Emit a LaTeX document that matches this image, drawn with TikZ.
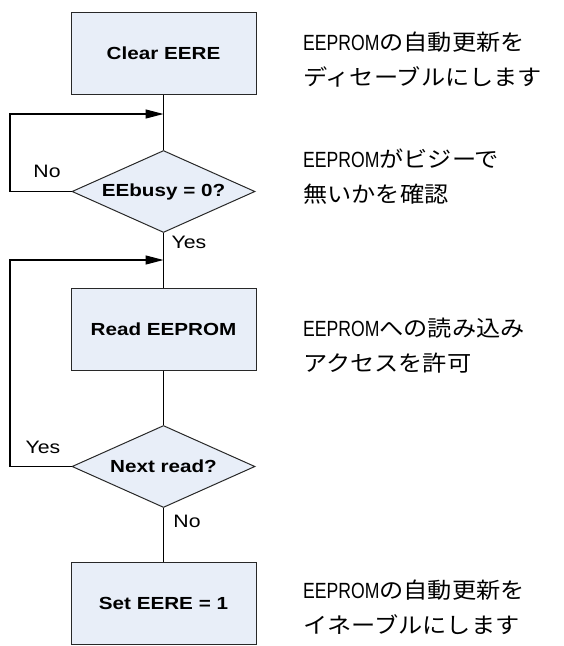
\documentclass[tikz,border=0pt]{standalone}
\usepackage{fontspec}
\setmainfont{Liberation Sans}
\newfontfamily\boxfont[FakeStretch=1.18]{Liberation Sans}
\newfontfamily\jpfont[FakeStretch=1.1]{Noto Sans CJK JP}
\newfontfamily\latfont[FakeStretch=0.8]{Liberation Sans}
\usetikzlibrary{shapes.geometric,arrows.meta}
\definecolor{boxblue}{RGB}{232,238,248}
\definecolor{edge}{RGB}{40,40,40}
\tikzset{
  procbox/.style={draw=edge, fill=boxblue, line width=1pt, minimum width=185pt,
    minimum height=82pt, inner sep=0pt, font=\boxfont\bfseries\fontsize{17.5}{20}\selectfont},
  decision/.style={diamond, draw=edge, fill=boxblue, line width=1pt, aspect=2.26,
    minimum width=183pt, minimum height=82pt, inner sep=0pt,
    font=\boxfont\bfseries\fontsize{17.5}{20}\selectfont},
  conn/.style={line width=1.2pt, draw=black},
  arr/.style={conn, -{Triangle[length=18pt,width=9pt]}},
  lbl/.style={inner sep=0pt, font=\boxfont\fontsize{18}{20}\selectfont},
  note/.style={anchor=west, align=left, inner sep=0pt, font=\fontsize{22}{35}\selectfont}
}
\begin{document}
\begin{tikzpicture}[x=1pt,y=-1pt]
\useasboundingbox (0,0) rectangle (564,646);
\node[procbox] (box1) at (163.5,53.5) {Clear EERE};
\node[decision] (dia1) at (163.5,191.5) {EEbusy = 0?};
\node[procbox] (box2) at (163.5,329) {Read EEPROM};
\node[decision] (dia2) at (163.5,466.5) {Next read?};
\node[procbox] (box3) at (163.5,603) {Set EERE = 1};
\coordinate (j1) at (163.5,114);
\coordinate (j2) at (163.5,260);
\coordinate (l1) at (10,191.5);
\coordinate (l2) at (10,466.5);
\draw[conn] (box1) -- (dia1);
\draw[conn] (dia1) -- (box2);
\draw[conn] (box2) -- (dia2);
\draw[conn] (dia2) -- (box3);
\draw[arr] (dia1.west) -- (l1) |- (j1);
\draw[arr] (dia2.west) -- (l2) |- (j2);
\node[lbl] (no1) at (47,171.5) {No};
\node[lbl] (yes1) at (189,242) {Yes};
\node[lbl] (yes2) at (43,447) {Yes};
\node[lbl] (no2) at (187,521) {No};
\node[note] (n1) at (303,60) {{\latfont EEPROM}{\jpfont の自動更新を}\\{\jpfont ディセーブルにします}};
\node[note] (n2) at (303,177) {{\latfont EEPROM}{\jpfont がビジーで}\\{\jpfont 無いかを確認}};
\node[note] (n3) at (303,346) {{\latfont EEPROM}{\jpfont への読み込み}\\{\jpfont アクセスを許可}};
\node[note] (n4) at (303,607) {{\latfont EEPROM}{\jpfont の自動更新を}\\{\jpfont イネーブルにします}};
\end{tikzpicture}
\end{document}
